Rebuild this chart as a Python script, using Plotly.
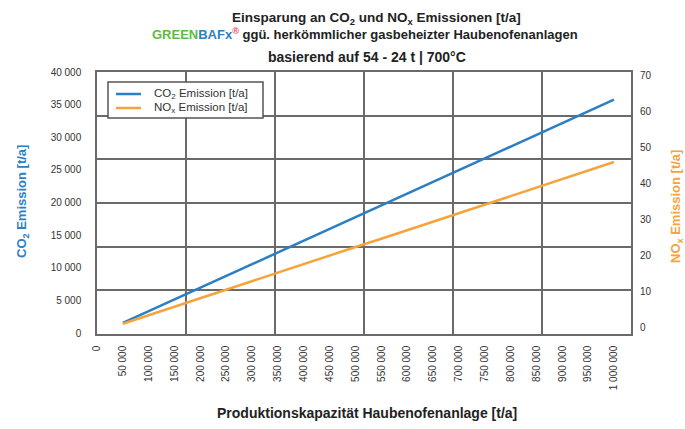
import plotly.graph_objects as go

capacity = [50000, 100000, 150000, 200000, 250000, 300000, 350000, 400000, 450000, 500000,
            550000, 600000, 650000, 700000, 750000, 800000, 850000, 900000, 950000, 1000000]
co2 = [1550, 3350, 5150, 6950, 8750, 10550, 12350, 14150, 15950, 17750,
       19550, 21350, 23150, 24950, 26750, 28550, 30350, 32150, 33950, 35750]
nox = [0.9, 3.3, 5.6, 8.0, 10.4, 12.8, 15.1, 17.5, 19.9, 22.3,
       24.6, 27.0, 29.4, 31.8, 34.1, 36.5, 38.9, 41.3, 43.6, 46.0]
series_names = ["CO<sub>2</sub> Emission [t/a]", "NO<sub>x</sub> Emission [t/a]"]

x_ticks = list(range(0, 1000001, 50000))
x_ticklabels = ["{:,}".format(v).replace(",", " ") for v in x_ticks]
y_ticks = list(range(0, 40001, 5000))
y_ticklabels = ["{:,}".format(v).replace(",", " ") for v in y_ticks]
y2_ticks = list(range(0, 71, 10))

BLUE = "#2d7fc3"
ORANGE = "#f6a33c"
GRID = "#6a6a6a"
TXT = "#333333"
FONT = "Liberation Sans"

# plot area in pixels
L, R, T, B = 97, 631, 72, 334
W, H = R - L, B - T


def px(xp):
    return (xp - L) / W


def py(yp):
    return (B - yp) / H


fig = go.Figure()
fig.add_trace(go.Scatter(x=capacity, y=co2, mode="lines", name=series_names[0],
                         line=dict(color=BLUE, width=2.5), yaxis="y", showlegend=False))
fig.add_trace(go.Scatter(x=capacity, y=nox, mode="lines", name=series_names[1],
                         line=dict(color=ORANGE, width=2.5), yaxis="y2", showlegend=False))
# empty trace to host the grid subplot
fig.add_trace(go.Scatter(x=[], y=[], xaxis="x2", yaxis="y3", showlegend=False, hoverinfo="skip"))

fig.update_layout(
    width=685, height=429,
    margin=dict(l=L, r=685 - R, t=T, b=429 - B, autoexpand=False),
    paper_bgcolor="white", plot_bgcolor="white",
    font=dict(family=FONT, size=10, color=TXT),
    showlegend=False,
    xaxis=dict(range=[0, 1033000], tickvals=x_ticks, ticktext=x_ticklabels, tickangle=-90,
               showgrid=False, zeroline=False, showline=True, linecolor=GRID, linewidth=1.5,
               mirror=True, ticks="", ticklabelstandoff=6, automargin=False,
               tickfont=dict(size=10, color=TXT)),
    yaxis=dict(range=[-150, 40000], tickvals=y_ticks, ticktext=y_ticklabels,
               showgrid=False, zeroline=False, showline=True, linecolor=GRID, linewidth=1.5,
               mirror=True, ticks="", ticklabelstandoff=12, automargin=False,
               tickfont=dict(size=10, color=TXT)),
    yaxis2=dict(range=[-1.95, 71.1], tickvals=y2_ticks, overlaying="y", side="right",
                showgrid=False, zeroline=False, showline=False, ticks="", automargin=False,
                ticklabelstandoff=8, tickfont=dict(size=10, color=TXT)),
    xaxis2=dict(range=[0, 6], dtick=1, overlaying="x", anchor="y3", showgrid=True,
                gridcolor=GRID, gridwidth=1.5, showticklabels=False, zeroline=False,
                showline=False, ticks="", automargin=False),
    yaxis3=dict(range=[0, 6], dtick=1, overlaying="y", anchor="x2", showgrid=True,
                gridcolor=GRID, gridwidth=1.5, showticklabels=False, zeroline=False,
                showline=False, ticks="", automargin=False),
)

ann = []


def add_text(text, x, y, size, color="#222222", angle=0, xanchor="center"):
    ann.append(dict(text=text, xref="paper", yref="paper", x=px(x), y=py(y),
                    showarrow=False, xanchor=xanchor, yanchor="middle", textangle=angle,
                    font=dict(family=FONT, size=size, color=color)))


add_text("<b>Einsparung an CO<sub>2</sub> und NO<sub>x</sub> Emissionen [t/a]</b>", 376, 18, 13.5)
add_text("<b><span style='color:#62b84a'>GREEN</span><span style='color:#2d7fc3'>BAFx</span>"
         "<span style='color:#e8505b'><sup>®</sup></span> ggü. herkömmlicher gasbeheizter Haubenofenanlagen</b>",
         365, 34, 13)
add_text("<b>basierend auf 54 - 24 t | 700°C</b>", 367, 57, 14)
add_text("<b>Produktionskapazität Haubenofenanlage [t/a]</b>", 367, 413, 14)
add_text("<b>CO<sub>2</sub> Emission [t/a]</b>", 22, 202, 13, BLUE, -90)
add_text("<b>NO<sub>x</sub> Emission [t/a]</b>", 676, 207, 13, ORANGE, -90)

# legend (drawn as a box with sample lines and labels)
shapes = [dict(type="rect", xref="paper", yref="paper", x0=px(108), x1=px(263), y0=py(118), y1=py(82),
               line=dict(color="#555555", width=1.5), fillcolor="white", layer="above")]
for i, (name, col) in enumerate(zip(series_names, [BLUE, ORANGE])):
    yy = 94 + 14 * i
    shapes.append(dict(type="line", xref="paper", yref="paper", x0=px(116), x1=px(141),
                       y0=py(yy), y1=py(yy), line=dict(color=col, width=2.5), layer="above"))
    add_text(name, 152, yy, 11.5, TXT, 0, "left")

fig.update_layout(annotations=ann, shapes=shapes)

fig.write_html("out.html", post_script="document.body.style.margin='0';",
               config={"displayModeBar": False})
